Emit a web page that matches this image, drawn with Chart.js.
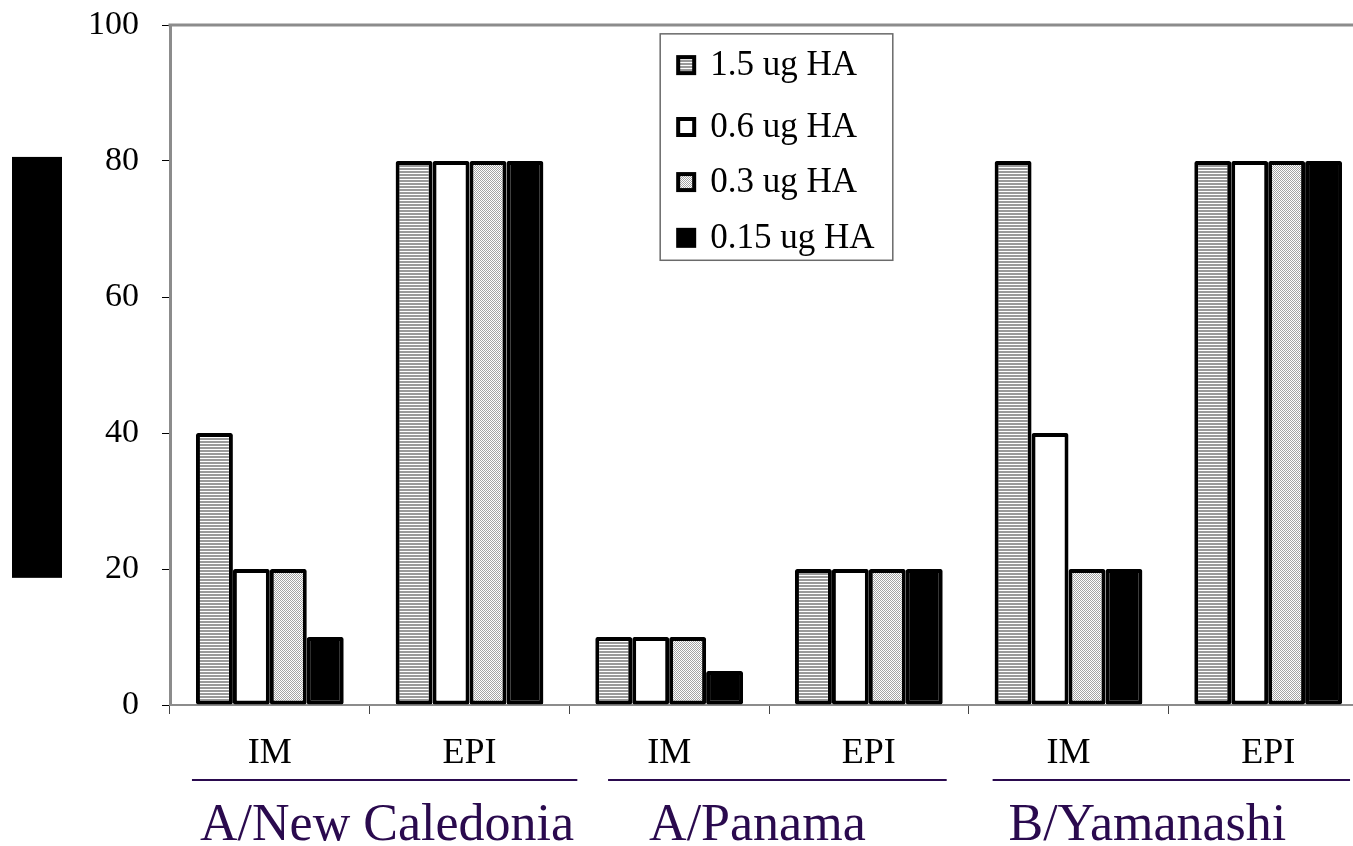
<!DOCTYPE html>
<html>
<head>
<meta charset="utf-8">
<script src="https://cdn.jsdelivr.net/npm/chart.js@4.4.1/dist/chart.umd.min.js"></script>
<style>
html, body { margin: 0; padding: 0; overflow: hidden; background: #ffffff; }
#wrap { width: 1368px; height: 846px; }
</style>
</head>
<body>
<div id="wrap"><canvas id="c" width="1368" height="846"></canvas></div>
<script>
// ---- data ----
const categories = ['IM', 'EPI', 'IM', 'EPI', 'IM', 'EPI'];
const groups = ['A/New Caledonia', 'A/Panama', 'B/Yamanashi'];
const seriesLabels = ['1.5 ug HA', '0.6 ug HA', '0.3 ug HA', '0.15 ug HA'];
const ha15 = [40, 80, 10, 20, 80, 80];
const ha06 = [20, 80, 10, 20, 40, 80];
const ha03 = [20, 80, 10, 20, 20, 80];
const ha015 = [10, 80, 5, 20, 20, 80];
const yTicks = [0, 20, 40, 60, 80, 100];

// ---- patterns ----
function makePattern(w, h, draw) {
  const c = document.createElement('canvas');
  c.width = w; c.height = h;
  const g = c.getContext('2d');
  draw(g);
  return document.getElementById('c').getContext('2d').createPattern(c, 'repeat');
}
const stripes = makePattern(4, 3, g => {
  g.fillStyle = '#ffffff'; g.fillRect(0, 0, 4, 3);
  g.fillStyle = '#9a9a9a'; g.fillRect(0, 0, 4, 2);
});
const dots = makePattern(2, 2, g => {
  g.fillStyle = '#ffffff'; g.fillRect(0, 0, 2, 2);
  g.fillStyle = '#a4a4a4'; g.fillRect(0, 0, 1, 1); g.fillRect(1, 1, 1, 1);
});
const fills = [stripes, '#ffffff', dots, '#000000'];
const seriesData = [ha15, ha06, ha03, ha015];

const serif = '"Liberation Serif", "Times New Roman", serif';
const purple = '#2a0a4e';

const decorPlugin = {
  id: 'decor',
  afterDraw(chart, args, opts) {
    const ctx = chart.ctx;
    const x = chart.scales.x, y = chart.scales.y;
    const area = chart.chartArea;
    const w = x.getPixelForValue(1) - x.getPixelForValue(0);
    ctx.save();
    // top gray border
    ctx.strokeStyle = '#8c8c8c';
    ctx.lineWidth = 3;
    ctx.beginPath();
    ctx.moveTo(area.left - 1.5, area.top);
    ctx.lineTo(area.right, area.top);
    ctx.stroke();

    // black block at left
    ctx.fillStyle = '#000000';
    const bt = y.getPixelForValue(opts.block.top), bb = y.getPixelForValue(opts.block.bottom);
    ctx.fillRect(opts.block.left, bt, opts.block.width, bb - bt);

    // group lines and labels
    ctx.strokeStyle = purple;
    ctx.fillStyle = purple;
    ctx.lineWidth = 2;
    ctx.font = '52px ' + serif;
    ctx.textAlign = 'center';
    ctx.textBaseline = 'alphabetic';
    groups.forEach((name, i) => {
      const c0 = x.getPixelForValue(2 * i), c1 = x.getPixelForValue(2 * i + 1);
      const g = opts.groups[i];
      const ly = area.bottom + opts.lineDy;
      ctx.beginPath();
      ctx.moveTo(c0 + g.start * w, ly);
      ctx.lineTo(c1 + g.end * w, ly);
      ctx.stroke();
      ctx.fillText(name, (c0 + c1) / 2 + g.text * w, area.bottom + opts.textDy);
    });

    // legend
    const L = opts.legend;
    const lx0 = x.getPixelForValue(L.fromCat) + L.left * w;
    const lx1 = x.getPixelForValue(L.toCat) + L.right * w;
    const ly0 = y.getPixelForValue(L.top), ly1 = y.getPixelForValue(L.bottom);
    ctx.fillStyle = '#ffffff';
    ctx.fillRect(lx0, ly0, lx1 - lx0, ly1 - ly0);
    ctx.strokeStyle = '#6a6a6a';
    ctx.lineWidth = 1.5;
    ctx.strokeRect(lx0, ly0, lx1 - lx0, ly1 - ly0);
    ctx.font = '35px ' + serif;
    ctx.textAlign = 'left';
    ctx.textBaseline = 'middle';
    chart.data.datasets.forEach((ds, i) => {
      const cy = y.getPixelForValue(L.rows[i]);
      const s = 20;
      ctx.fillStyle = '#000000';
      ctx.fillRect(lx0 + 16, cy - s / 2, s, s);
      ctx.fillStyle = ds.backgroundColor;
      ctx.fillRect(lx0 + 16 + 4, cy - s / 2 + 4, s - 8, s - 8);
      ctx.fillStyle = '#000000';
      ctx.fillText(ds.label, lx0 + 50, cy + 1);
    });
    ctx.restore();
  }
};

new Chart(document.getElementById('c'), {
  type: 'bar',
  data: {
    labels: categories,
    datasets: seriesLabels.map((lab, i) => ({
      label: lab,
      data: seriesData[i],
      backgroundColor: fills[i],
      borderColor: '#000000',
      borderWidth: 4,
      borderSkipped: false,
      borderRadius: 2,
      categoryPercentage: 0.74,
      barPercentage: 1.0
    }))
  },
  plugins: [decorPlugin],
  options: {
    responsive: false,
    animation: false,
    layout: { padding: { top: 25, left: 0, right: 0, bottom: 0 } },
    plugins: {
      legend: { display: false },
      tooltip: { enabled: false },
      decor: {
        block: { left: 12, width: 50, top: 80.6, bottom: 18.7 },
        lineDy: 75,
        textDy: 135,
        groups: [
          { start: -0.39, end: 0.54, text: 0.087 },
          { start: -0.306, end: 0.39, text: -0.058 },
          { start: -0.38, end: 0.41, text: -0.105 }
        ],
        legend: { fromCat: 2, left: -0.045, toCat: 3, right: 0.12, top: 98.7, bottom: 65.4,
                  rows: [94.1, 85.0, 76.9, 68.7] }
      }
    },
    scales: {
      x: {
        afterFit(scale) { scale.height = 141; scale.paddingLeft = 0; scale.paddingRight = 0; },
        grid: { display: true, drawOnChartArea: false, drawTicks: true, tickLength: 9, color: '#444444', lineWidth: 1, offset: true },
        border: { display: true, color: '#8c8c8c', width: 2 },
        ticks: { color: '#000000', font: { family: serif, size: 36 }, padding: 18, maxRotation: 0 }
      },
      y: {
        min: 0, max: 100,
        afterFit(scale) { scale.width = 170; scale.paddingTop = 0; scale.paddingBottom = 0; },
        afterBuildTicks(scale) { scale.ticks = yTicks.map(v => ({ value: v })); },
        grid: { display: true, drawOnChartArea: false, drawTicks: true, tickLength: 8, color: '#000000', lineWidth: 1 },
        border: { display: true, color: '#8c8c8c', width: 3 },
        ticks: { color: '#000000', font: { family: serif, size: 34 }, padding: 23 }
      }
    }
  }
});
</script>
</body>
</html>
